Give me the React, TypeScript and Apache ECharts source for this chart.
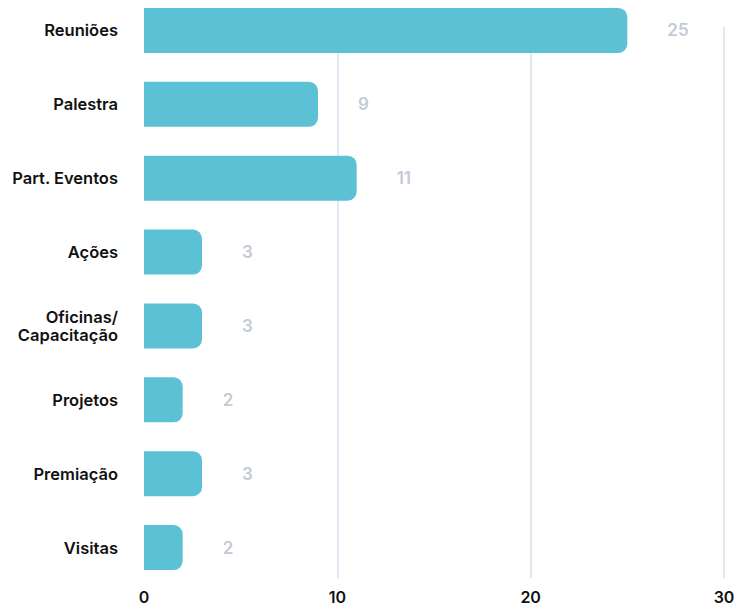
import React, { useEffect, useRef } from "react";
import * as echarts from "echarts";

const categories = [
  "Reuniões",
  "Palestra",
  "Part. Eventos",
  "Ações",
  "Oficinas/\nCapacitação",
  "Projetos",
  "Premiação",
  "Visitas",
];
const values = [25, 9, 11, 3, 3, 2, 3, 2];
const xTicks = [0, 10, 20, 30];

const FONT = "Inter";

export default function App() {
  const ref = useRef<HTMLDivElement>(null);
  useEffect(() => {
    document.body.style.margin = "0";
    const chart = echarts.init(ref.current!, null, { renderer: "svg" });
    chart.setOption({
      animation: false,
      backgroundColor: "#ffffff",
      grid: [
        { left: 144, right: 12, top: -6.5, height: 591, outerBoundsMode: "none", containLabel: false },
        { left: 144, right: 12, top: 27, bottom: 30, outerBoundsMode: "none", containLabel: false },
      ],
      xAxis: [
        {
          gridIndex: 0,
          type: "value",
          min: xTicks[0],
          max: xTicks[xTicks.length - 1],
          interval: 10,
          show: false,
        },
        {
          gridIndex: 1,
          type: "value",
          min: xTicks[0],
          max: xTicks[xTicks.length - 1],
          interval: 10,
          axisLine: { show: false },
          axisTick: { show: false },
          axisLabel: {
            color: "#111111",
            fontFamily: FONT,
            fontWeight: 600,
            fontSize: 16,
            margin: 11,
          },
          splitLine: {
            show: true,
            lineStyle: {
              color: ["transparent", "#e0e8f1", "#e0e8f1", "#e0e8f1"],
              width: 2,
            },
          },
          z: 0,
        },
      ],
      yAxis: [
        {
          gridIndex: 0,
          type: "category",
          data: categories,
          inverse: true,
          axisLine: { show: false },
          axisTick: { show: false },
          splitLine: { show: false },
          axisLabel: {
            color: "#111111",
            fontFamily: FONT,
            fontWeight: 600,
            fontSize: 16.5,
            lineHeight: 18,
            margin: 26,
            align: "right",
          },
        },
        { gridIndex: 1, type: "category", show: false, data: categories },
      ],
      series: [
        {
          type: "bar",
          xAxisIndex: 0,
          yAxisIndex: 0,
          data: values,
          barWidth: 45,
          itemStyle: { color: "#5cc1d4", borderRadius: [0, 9, 9, 0] },
          label: {
            show: true,
            position: "right",
            distance: 40,
            color: "#c3cbd4",
            fontFamily: FONT,
            fontWeight: 600,
            fontSize: 17,
          },
          z: 3,
        },
      ],
    });
    return () => chart.dispose();
  }, []);
  return <div ref={ref} style={{ width: 736, height: 608 }} />;
}
